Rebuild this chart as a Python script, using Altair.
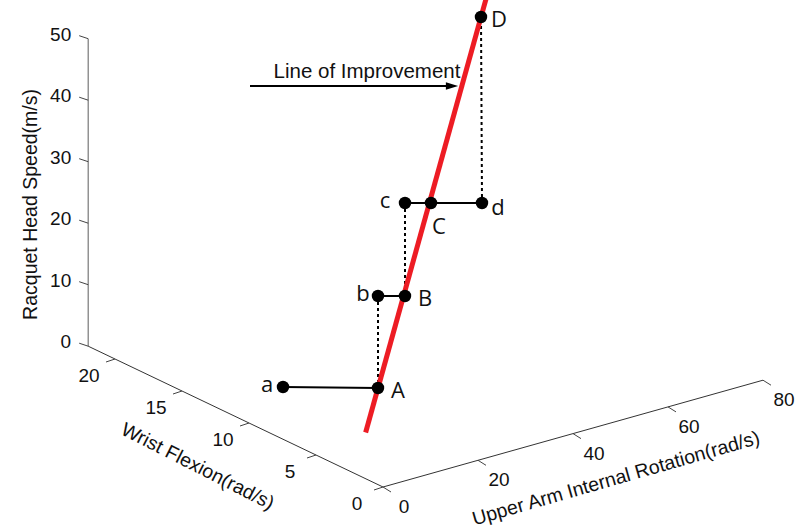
import altair as alt
import pandas as pd

# ---------------- data ----------------
speed_ticks = [0, 10, 20, 30, 40, 50]
wrist_ticks = [0, 5, 10, 15, 20]
arm_ticks = [0, 20, 40, 60, 80]
speed_max, wrist_max, arm_max = 50, 22, 80

# annotation points (diagram frame)
point_names = ["a", "A", "b", "B", "c", "C", "d", "D"]
point_x = [283, 378, 378, 405, 405, 431, 482, 481]
point_y = [387, 388, 296, 296, 203, 203, 203, 17]

solid_links = [("a", "A"), ("b", "B"), ("c", "d")]
dotted_links = [("b", "A"), ("c", "B"), ("d", "D")]
improvement_through = ("A", "D")
improvement_extent = (-0.12, 1.05)

arrow_text = "Line of Improvement"
arrow_from_x, arrow_to_x, arrow_y = 250, 452, 86

# ---------------- projection of the 3D box ----------------
ORIGIN = (383.0, 487.0)
ARM = (4.75, -1.335)
WRIST = (-13.4, -6.4)
SPEED = (0.0, -6.15)


def proj(arm, wrist, speed):
    return (ORIGIN[0] + arm * ARM[0] + wrist * WRIST[0] + speed * SPEED[0],
            ORIGIN[1] + arm * ARM[1] + wrist * WRIST[1] + speed * SPEED[1])


W, H = 811, 529
X = lambda f: alt.X(f, type="quantitative", scale=alt.Scale(domain=[0, W], nice=False, zero=False), axis=None)
Y = lambda f: alt.Y(f, type="quantitative", scale=alt.Scale(domain=[0, H], nice=False, zero=False, reverse=True), axis=None)


def seg_rows(pairs):
    return pd.DataFrame([{"x": a[0], "y": a[1], "x2": b[0], "y2": b[1]} for a, b in pairs])


def rules(df, color, width, dash=None):
    kw = dict(color=color, strokeWidth=width)
    if dash:
        kw["strokeDash"] = dash
    return alt.Chart(df).mark_rule(**kw).encode(x=X("x"), y=Y("y"), x2="x2", y2="y2")


# axes lines
axis_arm = seg_rows([(proj(0, 0, 0), proj(arm_max, 0, 0))])
axis_wrist = seg_rows([(proj(0, 0, 0), proj(0, wrist_max, 0))])
axis_speed = seg_rows([(proj(0, wrist_max, 0), proj(0, wrist_max, speed_max))])

# ticks
tick_pairs = []
for v in speed_ticks:
    p = proj(0, wrist_max, v)
    tick_pairs.append((p, (p[0] - 9, p[1] - 3)))
for v in wrist_ticks:
    p = proj(0, v, 0)
    tick_pairs.append((p, (p[0] - 9, p[1] + 3)))
for v in arm_ticks:
    p = proj(v, 0, 0)
    tick_pairs.append((p, (p[0] + 8, p[1] + 5)))
ticks_df = seg_rows(tick_pairs)

lab_rows = []
for v in speed_ticks:
    p = proj(0, wrist_max, v)
    lab_rows.append({"x": p[0] - 17, "y": p[1] - 4, "t": str(v), "al": "right"})
for v in wrist_ticks:
    p = proj(0, v, 0)
    lab_rows.append({"x": p[0] - 26, "y": p[1] + 17, "t": str(v), "al": "center"})
for v in arm_ticks:
    p = proj(v, 0, 0)
    lab_rows.append({"x": p[0] + 21, "y": p[1] + 20, "t": str(v), "al": "center"})
lab_df = pd.DataFrame(lab_rows)

FONT = "Liberation Sans"
tick_right = alt.Chart(lab_df[lab_df.al == "right"]).mark_text(
    font=FONT, fontSize=19, color="#111", align="right", baseline="middle").encode(
    x=X("x"), y=Y("y"), text="t:N")
tick_center = alt.Chart(lab_df[lab_df.al == "center"]).mark_text(
    font=FONT, fontSize=19, color="#111", align="center", baseline="middle").encode(
    x=X("x"), y=Y("y"), text="t:N")

# axis titles
zt = proj(0, wrist_max, speed_max * 0.5)
wt = proj(0, wrist_max * 0.5, 0)
at = proj(arm_max * 0.5, 0, 0)
titles = [
    ({"x": zt[0] - 57, "y": zt[1] + 12, "t": "Racquet Head Speed(m/s)"}, 270),
    ({"x": wt[0] - 38, "y": wt[1] + 50, "t": "Wrist Flexion(rad/s)"}, 27),
    ({"x": at[0] + 43, "y": at[1] + 45, "t": "Upper Arm Internal Rotation(rad/s)"}, 344),
]
title_layers = [
    alt.Chart(pd.DataFrame([row])).mark_text(
        font=FONT, fontSize=19.5, color="#111", align="center", baseline="middle", angle=ang).encode(
        x=X("x"), y=Y("y"), text="t:N")
    for row, ang in titles
]

# points and links
pts = pd.DataFrame({"name": point_names, "x": point_x, "y": point_y})
pos = {n: (x, y) for n, x, y in zip(point_names, point_x, point_y)}
solid_df = seg_rows([(pos[a], pos[b]) for a, b in solid_links])
dotted_df = seg_rows([(pos[a], pos[b]) for a, b in dotted_links])

p0, p1 = pos[improvement_through[0]], pos[improvement_through[1]]
t0, t1 = improvement_extent
red_df = seg_rows([((p0[0] + t0 * (p1[0] - p0[0]), p0[1] + t0 * (p1[1] - p0[1])),
                    (p0[0] + t1 * (p1[0] - p0[0]), p0[1] + t1 * (p1[1] - p0[1])))])

label_offsets = {"a": (-16, -2), "A": (20, 3), "b": (-15, -2), "B": (20, 3),
                 "c": (-20, -2), "C": (8, 24), "d": (16, 5), "D": (18, 3)}
lbl_df = pd.DataFrame([{"x": pos[n][0] + label_offsets[n][0],
                        "y": pos[n][1] + label_offsets[n][1], "t": n} for n in point_names])

dots = alt.Chart(pts).mark_circle(size=155, color="black", opacity=1).encode(x=X("x"), y=Y("y"))
dot_labels = alt.Chart(lbl_df).mark_text(
    font="Open Sans", fontSize=22, color="#111", align="center", baseline="middle").encode(
    x=X("x"), y=Y("y"), text="t:N")

# arrow annotation
arrow_line = seg_rows([((arrow_from_x, arrow_y), (arrow_to_x, arrow_y))])
arrow_head = alt.Chart(pd.DataFrame({"x": [arrow_to_x], "y": [arrow_y]})).mark_point(
    shape="M-1,-0.6L1,0L-1,0.6Z", filled=True, color="black", size=150, opacity=1).encode(x=X("x"), y=Y("y"))
arrow_label = alt.Chart(pd.DataFrame({"x": [(arrow_from_x + arrow_to_x) / 2 + 16], "y": [arrow_y - 14], "t": [arrow_text]})).mark_text(
    font=FONT, fontSize=20.5, color="#111", align="center", baseline="middle").encode(
    x=X("x"), y=Y("y"), text="t:N")

chart = alt.layer(
    rules(axis_speed, "#777", 1.2),
    rules(axis_wrist, "#333", 1),
    rules(axis_arm, "#333", 1),
    rules(ticks_df, "#444", 1),
    tick_right, tick_center, *title_layers,
    rules(dotted_df, "black", 2, [3, 3]),
    rules(solid_df, "black", 2),
    rules(red_df, "#ed1c24", 5),
    dots, dot_labels,
    rules(arrow_line, "black", 2), arrow_head, arrow_label,
).properties(width=W, height=H, padding=0, autosize=alt.AutoSizeParams(type="none")
).configure_view(stroke=None)

chart.save("out.html", embed_options={"renderer": "svg", "actions": False})
